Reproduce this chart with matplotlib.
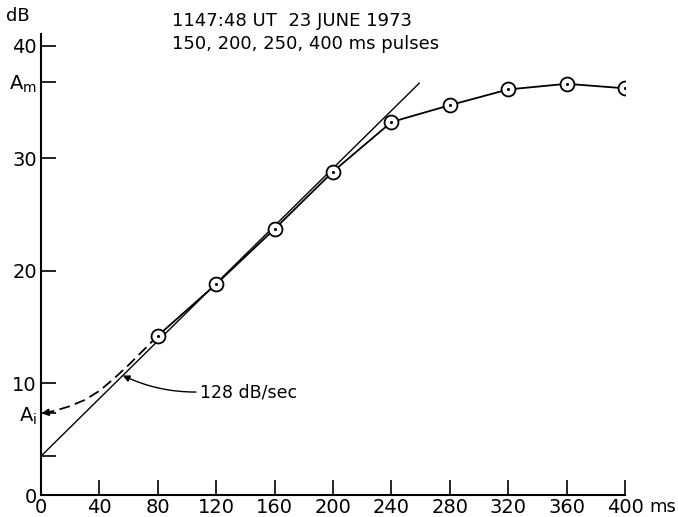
import matplotlib
matplotlib.use("Agg")
import matplotlib.pyplot as plt
import numpy as np

# pulse delay (ms) and measured amplitude (dB)
delay_ms = [80, 120, 160, 200, 240, 280, 320, 360, 400]
amp_db = [14.2, 18.8, 23.7, 28.8, 33.2, 34.7, 36.1, 36.6, 36.2]

# dashed extrapolation toward the initial amplitude Ai
dash_ms = [80, 70, 60, 50, 40, 30, 20, 10, 3]
dash_db = [14.2, 12.9, 11.6, 10.4, 9.3, 8.5, 7.95, 7.55, 7.35]

# straight growth fit: 128 dB/sec
fit_intercept = 3.5
fit_slope = 0.128   # dB per ms
fit_end = 259

a_m = 36.8
a_i = 7.3

x_ticks = [0, 40, 80, 120, 160, 200, 240, 280, 320, 360, 400]
y_ticks = [0, fit_intercept, a_i, 10, 20, 30, a_m, 40]
y_labels = ["0", "", r"A$_\mathregular{i}$", "10", "20", "30", r"A$_\mathregular{m}$", "40"]

plt.rcParams['font.family'] = ['DejaVu Sans']
fig = plt.figure(figsize=(6.78, 5.17), dpi=100)
ax = fig.add_axes([0.0605, 0.0416, 0.8614, 0.892])

# fit line
fx = np.array([0, fit_end])
ax.plot(fx, fit_intercept + fit_slope * fx, color='black', lw=1.0)

# data line and circles
ax.plot(delay_ms, amp_db, color='black', lw=1.3, zorder=3)
ax.plot(delay_ms, amp_db, 'o', ms=10, mfc='white', mec='black', mew=1.3, zorder=4)
ax.plot(delay_ms, amp_db, '.', ms=2.5, color='black', zorder=5)

# dashed curve with arrow onto Ai
ax.plot(dash_ms, dash_db, color='black', lw=1.3, ls=(0, (6, 3)))
ax.annotate("", xy=(0.3, a_i), xytext=(dash_ms[-1], dash_db[-1]),
            arrowprops=dict(arrowstyle='-|>', color='black', lw=1.3,
                            mutation_scale=10, shrinkA=0, shrinkB=0))

# slope label
ax.annotate("128 dB/sec", xy=(56, fit_intercept + fit_slope * 56),
            xytext=(109, 9.2), fontsize=12.5, va='center', ha='left',
            arrowprops=dict(arrowstyle='-|>', color='black', lw=1.0,
                            connectionstyle='arc3,rad=-0.12', mutation_scale=10,
                            relpos=(0, 0.5), shrinkA=1, shrinkB=0))

ax.text(90, 42.2, "1147:48 UT  23 JUNE 1973", fontsize=13, ha='left', va='center')
ax.text(90, 40.1, "150, 200, 250, 400 ms pulses", fontsize=13, ha='left', va='center')

ax.set_xlim(0, 400)
ax.set_ylim(0, 41)
ax.set_xticks(x_ticks)
ax.set_yticks(y_ticks)
ax.set_yticklabels(y_labels)
ax.tick_params(direction='in', length=11, width=1.2, labelsize=14, pad=3)
ax.tick_params(axis='x', pad=2)
for s in ['top', 'right']:
    ax.spines[s].set_visible(False)
for s in ['left', 'bottom']:
    ax.spines[s].set_linewidth(1.5)

ax.text(1.042, -0.026, "ms", transform=ax.transAxes, fontsize=13, ha='left', va='center')
ax.text(-0.06, 1.04, "dB", transform=ax.transAxes, fontsize=13, ha='left', va='center')

fig.savefig("out.png", dpi=100)
